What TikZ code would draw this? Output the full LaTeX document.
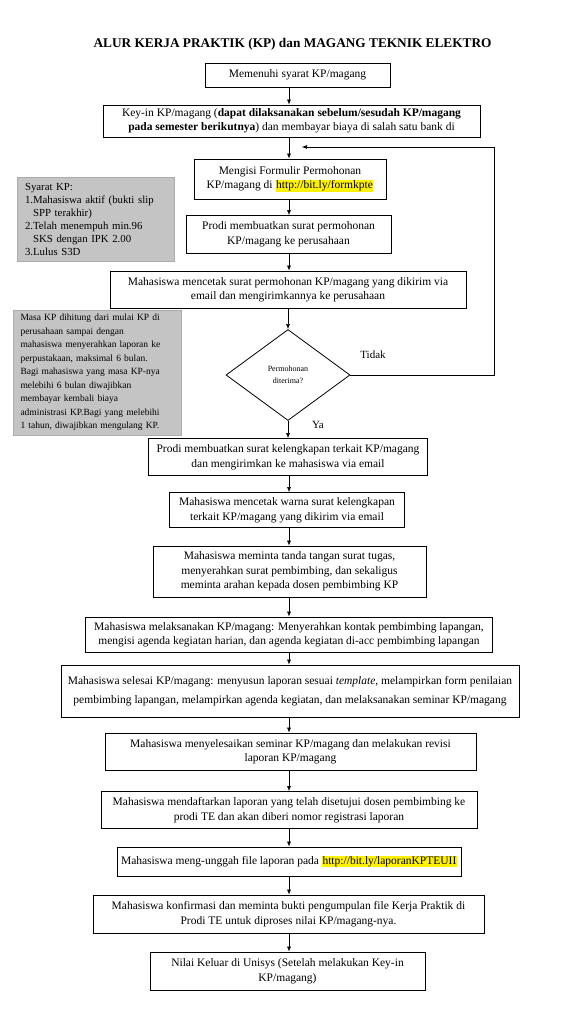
\documentclass[tikz,border=0pt]{standalone}
\usepackage{fontspec}
\setmainfont{Liberation Serif}
\usepackage{xcolor}
\usetikzlibrary{shapes.geometric,arrows.meta}

\definecolor{notefill}{RGB}{196,196,196}
\definecolor{noteline}{RGB}{172,172,172}
\newcommand{\urlmark}[1]{{\setlength{\fboxsep}{0.6pt}\colorbox{yellow}{#1}}}

\tikzset{
  box/.style={draw, line width=0.8pt, align=center, inner sep=2pt, font=\fontsize{11.5}{14.5}\selectfont},
  note/.style={fill=notefill, draw=noteline, align=left, inner xsep=8pt, inner ysep=0pt, font=\fontsize{9.5}{13.5}\selectfont},
  decision/.style={diamond, draw, line width=0.8pt, align=center, inner sep=0pt, font=\fontsize{8}{12}\selectfont},
  arr/.style={-{Latex[length=5pt,width=4pt]}, line width=0.6pt}
}

\begin{document}
\begin{tikzpicture}[x=1pt,y=-1pt]
    \useasboundingbox (0,0) rectangle (584,1030);
    \coordinate (spine) at (289,0);

    \node[font=\fontsize{13.3}{16}\selectfont\bfseries] (title) at (292.5,44) {ALUR KERJA PRAKTIK (KP) dan MAGANG TEKNIK ELEKTRO};

    \node[box, minimum width=185, minimum height=24] (b1) at (297.5,75) {Memenuhi syarat KP/magang};
    \node[box, minimum width=377, minimum height=32] (b2) at (291.5,121) {Key-in KP/magang (\textbf{dapat dilaksanakan sebelum/sesudah KP/magang}\\\textbf{pada semester berikutnya}) dan membayar biaya di salah satu bank di};
    \node[box, minimum width=192, minimum height=40] (b3) at (290,179) {Mengisi Formulir Permohonan\\KP/magang di \urlmark{http://bit.ly/formkpte}};
    \node[box, minimum width=205, minimum height=38] (b4) at (288.5,234.5) {Prodi membuatkan surat permohonan\\KP/magang ke perusahaan};
    \node[box, minimum width=356, minimum height=37] (b5) at (288,289.5) {Mahasiswa mencetak surat permohonan KP/magang yang dikirim via\\email dan mengirimkannya ke perusahaan};
    \node[decision, minimum width=124, minimum height=91] (dec) at (288,375) {Permohonan\\diterima?};
    \node[box, minimum width=279, minimum height=37] (b6) at (288,457) {Prodi membuatkan surat kelengkapan terkait KP/magang\\dan mengirimkan ke mahasiswa via email};
    \node[box, minimum width=235, minimum height=35] (b7) at (287,510) {Mahasiswa mencetak warna surat kelengkapan\\terkait KP/magang yang dikirim via email};
    \node[box, minimum width=273, minimum height=51] (b8) at (289.5,571.5) {Mahasiswa meminta tanda tangan surat tugas,\\menyerahkan surat pembimbing, dan sekaligus\\meminta arahan kepada dosen pembimbing KP};
    \node[box, minimum width=407, minimum height=35] (b9) at (289,634.5) {Mahasiswa melaksanakan KP/magang: Menyerahkan kontak pembimbing lapangan,\\mengisi agenda kegiatan harian, dan agenda kegiatan di-acc pembimbing lapangan};
    \node[box, minimum width=458, minimum height=52] (b10) at (290,691) {Mahasiswa selesai KP/magang: menyusun laporan sesuai \textit{template}, melampirkan form penilaian\\[5pt]pembimbing lapangan, melampirkan agenda kegiatan, dan melaksanakan seminar KP/magang};
    \node[box, minimum width=371, minimum height=37] (b11) at (290.5,751.5) {Mahasiswa menyelesaikan seminar KP/magang dan melakukan revisi\\laporan KP/magang};
    \node[box, minimum width=376, minimum height=37] (b12) at (289,810) {Mahasiswa mendaftarkan laporan yang telah disetujui dosen pembimbing ke\\prodi TE dan akan diberi nomor registrasi laporan};
    \node[box, minimum width=344, minimum height=29] (b13) at (289,861.5) {Mahasiswa meng-unggah file laporan pada \urlmark{http://bit.ly/laporanKPTEUII}};
    \node[box, minimum width=391, minimum height=38] (b14) at (288.5,914) {Mahasiswa konfirmasi dan meminta bukti pengumpulan file Kerja Praktik di\\Prodi TE untuk diproses nilai KP/magang-nya.};
    \node[box, minimum width=275, minimum height=38] (b15) at (287.5,971) {Nilai Keluar di Unisys (Setelah melakukan Key-in\\KP/magang)};

    \node[note, text width=141, minimum height=84, font=\fontsize{10.8}{13}\selectfont] (syarat) at (95.5,219.5) {Syarat KP:\\1.Mahasiswa aktif (bukti slip\\\phantom{1.}SPP terakhir)\\2.Telah menempuh min.96\\\phantom{2.}SKS dengan IPK 2.00\\3.Lulus S3D};
    \node[note, inner xsep=7.5pt, text width=153, minimum height=125] (masa) at (97,372.5) {Masa KP dihitung dari mulai KP di\\perusahaan sampai dengan\\mahasiswa menyerahkan laporan ke\\perpustakaan, maksimal 6 bulan.\\Bagi mahasiswa yang masa KP-nya\\melebihi 6 bulan diwajibkan\\membayar kembali biaya\\administrasi KP.Bagi yang melebihi\\1 tahun, diwajibkan mengulang KP.};

    \node[font=\fontsize{11}{13}\selectfont] (tidak) at (373,355) {Tidak};
    \node[font=\fontsize{11}{13}\selectfont] (ya) at (318,425) {Ya};

    \coordinate (loopr) at (494,147);
    \coordinate (back) at (302,147);

    \draw[arr] (b1.south -| spine) -- (b2.north -| spine);
    \draw[arr] (b2.south -| spine) -- (b3.north -| spine);
    \draw[arr] (b3.south -| spine) -- (b4.north -| spine);
    \draw[arr] (b4.south -| spine) -- (b5.north -| spine);
    \draw[arr] (b5.south -| dec) -- (dec.north);
    \draw[arr] (dec.south) -- (b6.north -| dec);
    \draw[arr] (b6.south -| spine) -- (b7.north -| spine);
    \draw[arr] (b7.south -| spine) -- (b8.north -| spine);
    \draw[arr] (b8.south -| spine) -- (b9.north -| spine);
    \draw[arr] (b9.south -| spine) -- (b10.north -| spine);
    \draw[arr] (b10.south -| spine) -- (b11.north -| spine);
    \draw[arr] (b11.south -| spine) -- (b12.north -| spine);
    \draw[arr] (b12.south -| spine) -- (b13.north -| spine);
    \draw[arr] (b13.south -| spine) -- (b14.north -| spine);
    \draw[arr] (b14.south -| spine) -- (b15.north -| spine);
    \draw[arr] (dec.east) -| (loopr) -- (back);
\end{tikzpicture}
\end{document}
